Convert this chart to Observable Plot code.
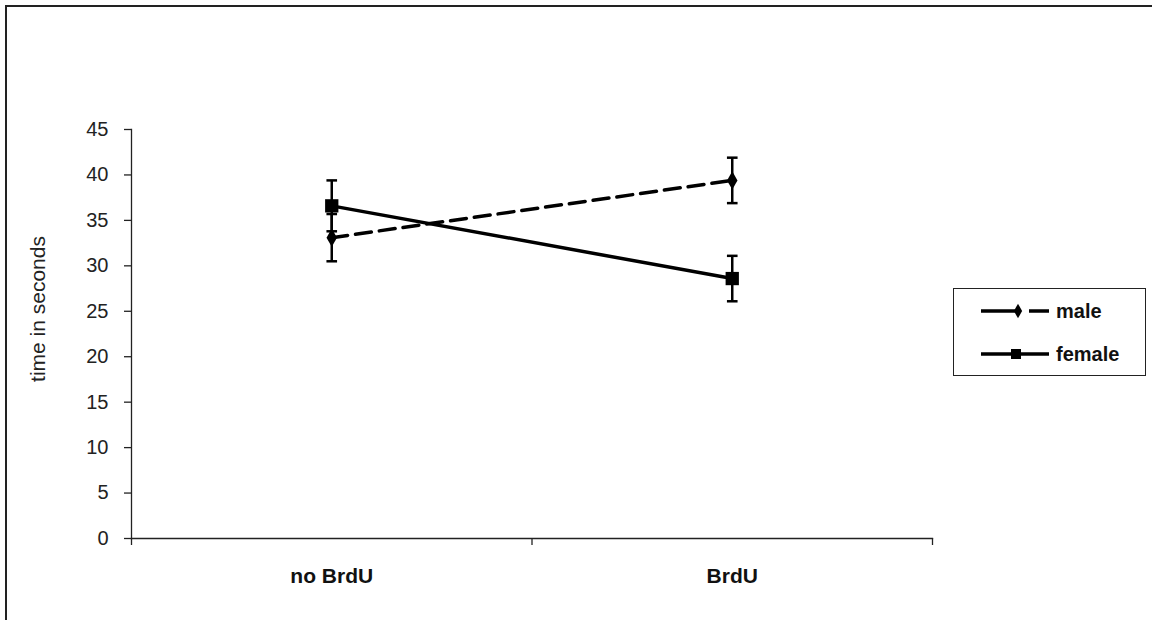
<!DOCTYPE html>
<html>
<head>
<meta charset="utf-8">
<script src="https://cdn.jsdelivr.net/npm/d3@7"></script>
<script src="https://cdn.jsdelivr.net/npm/@observablehq/plot@0.6"></script>
<style>
  html, body { margin: 0; padding: 0; background: #fff; }
  #wrap { position: relative; width: 1152px; height: 620px; overflow: hidden; }
  #border { position: absolute; left: 5px; top: 5px; width: 1200px; height: 700px; border-left: 2px solid #222; border-top: 2px solid #222; pointer-events: none; }
  #legend { position: absolute; left: 953px; top: 288px; width: 193px; height: 88px; border: 1.5px solid #222; box-sizing: border-box; background: #fff; }
</style>
</head>
<body>
<div id="wrap">
  <div id="chart"></div>
  <div id="border"></div>
  <div id="legend"></div>
</div>
<script>
const categories = ["no BrdU", "BrdU"];
const seriesNames = ["male", "female"];
const maleMean = [33.1, 39.4];
const maleErr = [2.6, 2.5];
const femaleMean = [36.6, 28.6];
const femaleErr = [2.8, 2.5];
const yTicks = [0, 5, 10, 15, 20, 25, 30, 35, 40, 45];
const yLabel = "time in seconds";

const rows = [];
categories.forEach((c, i) => {
  rows.push({series: "male", cat: c, xi: i + 0.5, y: maleMean[i], e: maleErr[i]});
  rows.push({series: "female", cat: c, xi: i + 0.5, y: femaleMean[i], e: femaleErr[i]});
});
const male = rows.filter(d => d.series === "male");
const female = rows.filter(d => d.series === "female");

const capSymbol = {
  draw(ctx, size) {
    const w = Math.sqrt(size) / 2;
    ctx.moveTo(-w, 0); ctx.lineTo(w, 0);
  }
};

const font = "'Liberation Sans', Arial, sans-serif";

const plot = Plot.plot({
  width: 1152,
  height: 620,
  marginLeft: 131,
  marginRight: 220,
  marginTop: 129,
  marginBottom: 82,
  style: {fontFamily: font, fontSize: "20px", color: "#222", background: "transparent"},
  x: {type: "linear", domain: [0, categories.length], axis: null},
  y: {domain: [0, 45], axis: null},
  marks: [
    Plot.frame({anchor: "left", stroke: "#222", strokeWidth: 1.3}),
    Plot.frame({anchor: "bottom", stroke: "#222", strokeWidth: 1.3}),
    Plot.axisY({ticks: yTicks, tickSize: 7, tickPadding: 16, label: null, stroke: "#222", strokeWidth: 1.3, fill: "#222"}),
    Plot.axisX({ticks: d3.range(categories.length + 1), tickSize: 7, tickFormat: () => "", label: null, stroke: "#222", strokeWidth: 1.3}),
    Plot.text(categories, {x: (d, i) => i + 0.5, frameAnchor: "bottom", textAnchor: "middle", lineAnchor: "middle", dy: 38, fontWeight: "bold", fontSize: 21, fill: "#111"}),
    Plot.text([yLabel], {frameAnchor: "left", textAnchor: "middle", lineAnchor: "middle", dx: -93, dy: -25, rotate: -90, fontSize: 21, fill: "#222"}),
    // error bars
    Plot.ruleX(rows, {x: "xi", y1: d => d.y - d.e, y2: d => d.y + d.e, stroke: "#000", strokeWidth: 2.5}),
    Plot.dot(rows, {x: "xi", y: d => d.y - d.e, symbol: capSymbol, r: 6, stroke: "#000", strokeWidth: 2.5, fill: "none"}),
    Plot.dot(rows, {x: "xi", y: d => d.y + d.e, symbol: capSymbol, r: 6, stroke: "#000", strokeWidth: 2.5, fill: "none"}),
    // lines
    Plot.line(male, {x: "xi", y: "y", stroke: "#000", strokeWidth: 3.5, strokeDasharray: "16,8"}),
    Plot.line(female, {x: "xi", y: "y", stroke: "#000", strokeWidth: 3.5}),
    Plot.dot(male, {x: "xi", y: "y", symbol: "diamond", r: 5.5, fill: "#000", stroke: "none"}),
    Plot.dot(female, {x: "xi", y: "y", symbol: "square", r: 7.5, fill: "#000", stroke: "none"})
  ]
});
document.getElementById("chart").appendChild(plot);

// legend
const leg = d3.select("#legend").append("svg").attr("width", 190).attr("height", 85)
  .style("font-family", font);
const rowsY = [22, 65];
seriesNames.forEach((name, i) => {
  const g = leg.append("g").attr("transform", `translate(0,${rowsY[i]})`);
  if (name === "male") {
    g.append("line").attr("x1", 27).attr("x2", 95).attr("y1", 0).attr("y2", 0)
      .attr("stroke", "#000").attr("stroke-width", 3.5).attr("stroke-dasharray", "34,14,20");
    g.append("path").attr("d", d3.symbol(d3.symbolDiamond, 60)()).attr("transform", "translate(64,0)").attr("fill", "#000");
  } else {
    g.append("line").attr("x1", 27).attr("x2", 95).attr("y1", 0).attr("y2", 0)
      .attr("stroke", "#000").attr("stroke-width", 3.5);
    g.append("rect").attr("x", 57).attr("y", -5).attr("width", 10).attr("height", 10).attr("fill", "#000");
  }
  g.append("text").attr("x", 102).attr("y", 0).attr("dy", "0.35em")
    .attr("font-size", 20).attr("font-weight", "bold").attr("fill", "#111").text(name);
});
</script>
</body>
</html>
